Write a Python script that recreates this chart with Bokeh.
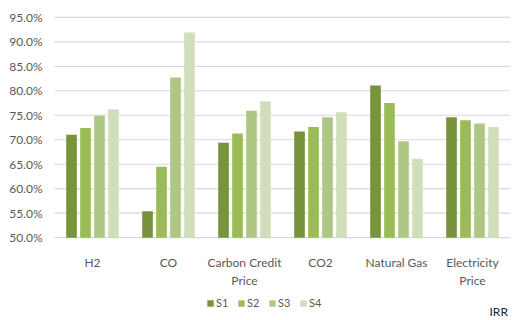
from bokeh.plotting import figure
from bokeh.layouts import column
from bokeh.models import (ColumnDataSource, Range1d, Legend, LegendItem, Label, FixedTicker)
from bokeh.core.properties import value
from bokeh.transform import dodge
from bokeh.embed import file_html
from bokeh.resources import INLINE

# IRR by sensitivity driver, four scenarios (fractions)
categories = ["H2", "CO", "Carbon Credit\nPrice", "CO2", "Natural Gas", "Electricity\nPrice"]
series_names = ["S1", "S2", "S3", "S4"]
s1 = [0.710, 0.554, 0.694, 0.717, 0.811, 0.746]
s2 = [0.724, 0.645, 0.713, 0.726, 0.775, 0.740]
s3 = [0.749, 0.827, 0.759, 0.746, 0.697, 0.733]
s4 = [0.762, 0.919, 0.778, 0.756, 0.661, 0.726]
y_ticks = [0.50, 0.55, 0.60, 0.65, 0.70, 0.75, 0.80, 0.85, 0.90, 0.95]
colors = ["#77933C", "#9BBB59", "#AFC784", "#D1DEBB"]

FONT = "Lato"
TEXT = "#595959"
GRID = "#D9D9D9"

n = len(categories)
idx = list(range(n))
source = ColumnDataSource(dict(pos=idx, S1=s1, S2=s2, S3=s3, S4=s4))

# extra room on the left of the category band for the percentage labels,
# and a little below the baseline so the lowest label is not clipped
label_pad = 54 / 76
base = y_ticks[0]
p = figure(width=513, height=290, x_range=Range1d(-0.5 - label_pad, n - 0.5),
           y_range=Range1d(base - 0.02, 0.97), output_backend="svg", toolbar_location=None,
           y_axis_location=None,
           min_border_left=0, min_border_right=3, min_border_top=7, min_border_bottom=42)

# horizontal gridlines across the category band
p.segment(x0=[-0.5] * len(y_ticks), x1=[n - 0.5] * len(y_ticks), y0=y_ticks, y1=y_ticks,
          line_color=GRID, line_width=1.2)

# percentage labels beside the gridlines
p.text(x=[-0.5] * len(y_ticks), y=y_ticks, text=[f"{t * 100:.1f}%" for t in y_ticks],
       x_offset=-12, text_align="right", text_baseline="middle",
       text_font=value(FONT), text_font_size=value("12px"), text_color=TEXT)

offsets = [-0.276, -0.092, 0.092, 0.276]
for name, off, col in zip(series_names, offsets, colors):
    p.vbar(x=dodge("pos", off), top=name, bottom=base, width=0.14,
           source=source, fill_color=col, line_color=None)

p.outline_line_color = None
p.background_fill_color = "white"
p.border_fill_color = "white"
p.grid.grid_line_color = None

p.xaxis.ticker = FixedTicker(ticks=idx)
p.xaxis.major_label_overrides = dict(zip(idx, categories))
p.xaxis.axis_line_color = None
p.xaxis.major_tick_line_color = None
p.xaxis.minor_tick_line_color = None
p.xaxis.major_label_standoff = 1
p.xaxis.major_label_text_font = FONT
p.xaxis.major_label_text_font_size = "12px"
p.xaxis.major_label_text_color = TEXT

# strip underneath the chart holding the series key and the metric name
key = figure(width=513, height=30, x_range=Range1d(0, 513), y_range=Range1d(0, 30),
             output_backend="svg", toolbar_location=None,
             x_axis_location=None, y_axis_location=None, min_border=0)
key.grid.grid_line_color = None
key.outline_line_color = None
key_renderers = [key.vbar(x=[0], top=[0], bottom=[0], width=0, fill_color=c, line_color=None)
                 for c in colors]

legend = Legend(items=[LegendItem(label=s, renderers=[r]) for s, r in zip(series_names, key_renderers)],
                orientation="horizontal", location=(206, 11), margin=0,
                glyph_width=8, glyph_height=8, label_standoff=2, spacing=1, padding=0,
                label_text_font=FONT, label_text_font_size="11px", label_text_color=TEXT,
                background_fill_alpha=0, border_line_color=None)
key.add_layout(legend, "center")

key.add_layout(Label(x=489, y=2, x_units="screen", y_units="screen", text="IRR",
                     text_font=FONT, text_font_size="12px", text_color="#262626"))

open("out.html", "w").write(file_html(column(p, key, spacing=0), INLINE))
